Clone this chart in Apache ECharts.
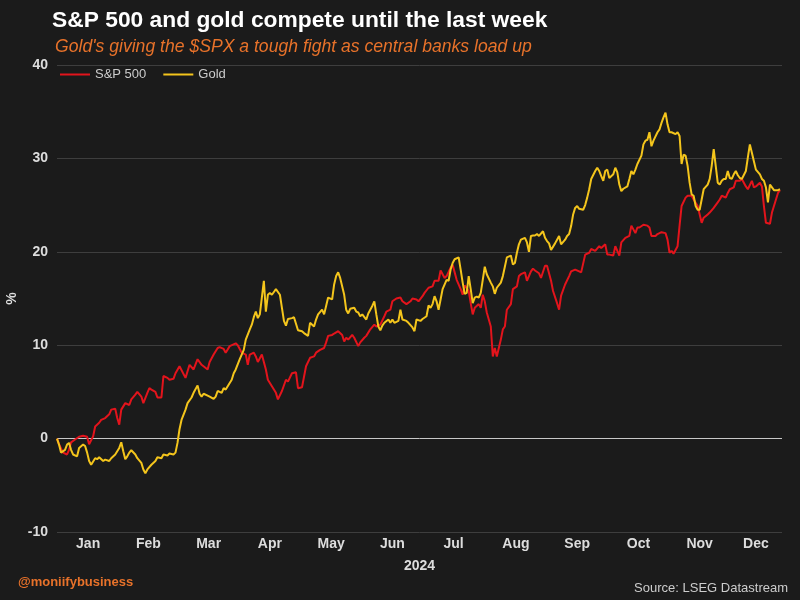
<!DOCTYPE html>
<html><head><meta charset="utf-8">
<script src="https://cdn.jsdelivr.net/npm/echarts@6/dist/echarts.min.js"></script>
<style>html,body{margin:0;padding:0;background:#1b1b1b}#chart{width:800px;height:600px}</style>
</head><body><div id="chart"></div>
<script>
const monthLabels = ['Jan','Feb','Mar','Apr','May','Jun','Jul','Aug','Sep','Oct','Nov','Dec'];
const yearLabel = '2024';
const yTicks = [-10, 0, 10, 20, 30, 40];

const spxDates = ['01-01','01-02','01-04','01-06','01-07','01-08','01-10','01-12','01-14','01-16','01-17','01-19','01-20','01-22','01-23','01-25','01-27','01-28','01-30','01-31',
'02-01','02-02','02-04','02-06','02-07','02-09','02-10','02-12','02-13','02-15','02-16','02-17','02-19','02-20','02-22','02-23','02-25','02-26','02-28','02-29',
'03-02','03-05','03-07','03-09','03-11','03-13','03-16','03-17','03-19','03-21','03-22','03-24','03-25','03-27','03-30','03-31',
'04-02','04-04','04-05','04-06','04-08','04-09','04-10','04-12','04-14','04-15','04-17','04-19','04-20','04-22','04-24','04-25','04-27','04-29','04-30',
'05-02','05-04','05-06','05-08','05-09','05-11','05-13','05-14','05-15','05-17','05-18','05-20','05-22','05-23','05-24','05-25','05-27','05-28','05-30','05-31',
'06-02','06-03','06-05','06-07','06-08','06-10','06-12','06-13','06-15','06-16','06-18','06-20','06-21','06-23','06-25','06-26','06-28','06-29',
'07-01','07-02','07-04','07-06','07-07','07-09','07-10','07-12','07-13','07-15','07-16','07-18','07-20','07-21','07-22','07-24','07-25','07-26','07-27','07-29','07-30','07-31',
'08-01','08-02','08-04','08-05','08-06','08-07','08-09','08-10','08-11','08-12','08-14','08-15','08-17','08-18','08-19','08-21','08-22','08-24','08-25','08-26','08-28','08-29','08-31',
'09-01','09-03','09-04','09-06','09-07','09-08','09-10','09-12','09-13','09-15','09-17','09-18','09-20','09-22','09-23','09-25','09-27','09-28','09-30',
'10-01','10-02','10-04','10-05','10-07','10-08','10-10','10-12','10-13','10-15','10-16','10-17','10-19','10-21','10-22','10-23','10-25','10-26','10-28','10-30','10-31',
'11-01','11-02','11-03','11-05','11-06','11-07','11-09','11-10','11-12','11-13','11-15','11-17','11-18','11-20','11-21','11-23','11-25','11-26','11-27','11-29','11-30',
'12-01','12-03','12-04','12-06','12-07','12-09','12-10','12-12','12-13','12-14','12-16','12-17','12-18','12-19','12-21','12-22','12-24','12-25','12-26'];
const spxValues = [0,-0.6,-1.5,-1.7,-1.2,-0.4,-0.1,0.2,0.3,0.2,-0.6,0.25,1.3,1.7,2.0,2.2,2.6,3.1,3.2,2.2,
1.5,3.1,3.8,3.6,4.2,4.7,5.0,4.5,3.8,4.9,5.4,5.25,5.0,4.4,4.4,6.7,6.5,6.3,6.4,7.0,
7.75,6.5,7.9,7.4,8.5,7.9,7.4,8.2,9.0,9.7,9.8,9.6,9.2,9.9,10.2,10.0,
9.2,9.0,7.9,9.0,9.2,8.8,8.2,9.0,7.4,6.3,5.6,4.9,4.2,5.1,6.3,6.1,7.0,7.1,5.4,
5.5,7.75,8.65,8.8,9.2,9.5,9.7,10.3,11.0,11.1,11.25,11.5,11.1,10.4,10.8,10.6,11.1,10.8,9.9,10.3,
10.8,11.0,11.7,12.2,12.0,12.2,13.1,13.6,13.8,14.7,15.0,15.1,14.7,14.4,14.7,15.0,14.9,14.7,
15.25,15.6,16.15,16.3,16.9,16.9,18.0,17.2,17.4,18.3,18.6,17.0,16.0,15.4,16.4,15.8,14.5,13.3,14.0,14.4,14.0,15.4,
14.7,13.5,12.0,8.8,9.7,8.8,10.6,11.7,12.0,13.8,14.4,16.0,16.3,17.4,17.6,17.8,16.9,17.9,18.2,18.0,17.7,17.2,18.5,
18.5,16.9,15.8,14.5,13.8,15.3,16.5,17.4,17.9,18.1,17.9,17.8,19.7,19.9,20.3,20.1,20.6,20.4,20.8,
19.7,19.7,19.6,20.6,19.6,21.0,21.5,21.7,22.8,22.0,22.6,22.6,22.9,22.8,22.6,21.7,21.7,21.9,22.1,22.0,21.3,
19.9,20.1,19.8,20.6,22.8,24.9,25.8,26.0,26.0,25.6,24.9,23.1,23.65,24.0,24.2,24.7,25.3,25.6,26.0,25.8,26.3,
26.7,26.9,27.6,27.6,27.8,27.0,26.7,27.6,26.9,27.0,27.4,27.0,24.9,23.1,23.0,24.2,25.6,26.3,26.6];

const goldDates = ['01-01','01-02','01-03','01-05','01-06','01-07','01-08','01-09','01-11','01-12','01-14','01-15','01-16','01-17','01-18','01-20','01-21','01-22','01-24','01-25','01-27','01-28','01-30',
'02-01','02-02','02-03','02-04','02-05','02-06','02-07','02-09','02-10','02-12','02-13','02-14','02-15','02-17','02-19','02-20','02-22','02-23','02-25','02-26','02-28','02-29',
'03-01','03-02','03-03','03-05','03-06','03-08','03-09','03-11','03-12','03-13','03-14','03-16','03-17','03-19','03-20','03-21','03-23','03-24','03-25','03-26','03-28','03-29','03-30',
'04-01','04-03','04-04','04-06','04-07','04-08','04-09','04-10','04-11','04-12','04-13','04-14','04-15','04-16','04-17','04-18','04-19','04-21','04-22','04-23','04-24','04-25','04-27','04-28','04-30',
'05-02','05-03','05-05','05-06','05-08','05-09','05-10','05-12','05-13','05-14','05-15','05-17','05-18','05-19','05-20','05-21','05-23','05-24','05-25','05-26','05-28','05-29','05-30','05-31',
'06-01','06-03','06-04','06-05','06-06','06-07','06-08','06-09','06-10','06-11','06-12','06-14','06-15','06-16','06-17','06-19','06-20','06-21','06-23','06-24','06-26','06-27','06-28','06-30',
'07-01','07-03','07-04','07-05','07-06','07-07','07-08','07-09','07-10','07-11','07-13','07-14','07-15','07-16','07-17','07-19','07-20','07-21','07-22','07-23','07-24','07-25','07-26','07-27','07-28','07-29','07-30','07-31',
'08-01','08-02','08-04','08-05','08-06','08-07','08-09','08-10','08-11','08-12','08-14','08-15','08-16','08-17','08-18','08-19','08-21','08-22','08-23','08-24','08-25','08-26','08-27','08-28','08-30','08-31',
'09-01','09-02','09-03','09-05','09-06','09-07','09-08','09-10','09-11','09-12','09-13','09-14','09-15','09-16','09-17','09-19','09-20','09-21','09-22','09-23','09-25','09-26','09-27','09-28','09-29','09-30',
'10-01','10-02','10-04','10-05','10-06','10-07','10-08','10-09','10-11','10-12','10-13','10-14','10-15','10-16','10-18','10-19','10-20','10-21','10-22','10-23','10-24','10-26','10-27','10-28','10-29','10-30','10-31',
'11-01','11-02','11-04','11-05','11-06','11-07','11-08','11-09','11-10','11-11','11-12','11-13','11-14','11-15','11-16','11-17','11-18','11-20','11-21','11-22','11-23','11-24','11-25','11-26','11-27','11-28','11-29','11-30',
'12-01','12-02','12-03','12-04','12-05','12-06','12-07','12-09','12-10','12-11','12-12','12-13','12-14','12-16','12-17','12-18','12-19','12-20','12-21','12-22','12-23','12-25','12-26'];
const goldValues = [0,-0.64,-1.5,-1.2,-0.64,-0.46,-1.2,-1.7,-1.9,-1.0,-0.64,-0.8,-1.5,-2.4,-2.8,-2.1,-2.2,-2.0,-2.4,-2.25,-2.4,-2.1,-1.7,
-1.0,-0.4,-1.35,-2.2,-1.9,-1.5,-1.25,-1.7,-2.1,-2.6,-3.3,-3.7,-3.3,-2.8,-2.4,-2.0,-2.1,-1.7,-1.8,-1.6,-1.7,-1.5,
-0.46,1.0,2.0,3.1,3.8,4.4,4.9,5.7,4.8,4.5,4.8,4.6,4.5,4.25,4.5,5.1,4.9,5.4,5.25,5.6,6.3,7.0,7.4,
8.5,9.5,10.6,11.7,12.2,13.0,13.6,12.9,13.3,15.1,16.9,13.6,15.4,15.6,15.4,15.7,16.0,15.4,14.0,12.6,12.1,12.8,12.9,13.0,11.6,
11.5,11.3,11.0,12.4,12.0,12.75,13.3,13.8,13.3,14.2,15.1,14.9,16.5,17.4,17.8,17.2,15.4,13.8,13.4,13.9,14.0,13.6,13.5,13.1,
13.3,12.75,13.4,13.8,14.2,14.7,13.3,12.0,11.6,12.1,12.4,12.75,12.4,12.75,12.4,12.6,13.8,12.75,12.6,12.4,11.9,11.5,12.75,12.6,
12.8,13.1,14.25,14.0,14.4,15.25,14.7,13.8,14.9,16.0,17.0,16.9,18.1,18.8,19.2,19.4,18.1,16.7,15.5,15.6,17.4,16.0,14.5,15.1,15.2,15.1,15.6,17.0,
18.4,17.6,16.7,16.3,15.5,16.15,16.7,17.4,18.4,19.4,19.6,18.65,18.8,19.9,20.8,21.3,21.5,21.0,20.0,21.7,21.75,21.75,21.9,21.7,22.2,21.5,
21.15,20.9,20.2,20.9,21.3,21.7,20.8,21.3,21.7,21.9,22.75,24.0,24.7,24.9,24.6,24.5,25.0,25.8,26.7,27.8,28.65,29.0,28.65,28.1,27.6,28.65,
28.8,27.9,28.3,29.0,28.5,27.2,26.5,26.75,27.0,27.8,28.65,28.3,28.8,29.4,30.3,31.5,31.9,32.0,32.8,31.3,31.9,32.8,33.1,33.8,34.4,34.9,33.65,
32.8,32.8,32.6,32.8,32.4,29.4,30.4,30.3,29.2,27.4,26.15,26.0,24.9,24.5,24.5,25.6,26.7,27.2,27.8,29.2,31.0,29.2,27.4,27.2,27.6,27.8,27.8,28.65,
27.9,27.8,28.3,28.65,28.2,27.9,27.8,28.65,30.1,31.5,30.6,29.7,28.8,28.3,27.8,27.6,26.9,25.3,27.2,26.9,26.6,26.6,26.7];

function toTime(md) { const p = md.split('-'); return new Date(2024, +p[0] - 1, +p[1]).getTime(); }
const axisMin = new Date(2024, 0, 1).getTime();
const axisMax = new Date(2024, 11, 27).getTime();
const labelPos = monthLabels.map((m, i) => {
  const s = new Date(2024, i, 1).getTime();
  const e = i < 11 ? new Date(2024, i + 1, 1).getTime() : axisMax;
  return (s + e) / 2;
});

const FONT = "'Liberation Sans', Arial, sans-serif";
const chart = echarts.init(document.getElementById('chart'), null, { renderer: 'canvas' });
chart.setOption({
  backgroundColor: '#1b1b1b',
  animation: false,
  title: [
    { text: 'S&P 500 and gold compete until the last week', left: 47, top: 4,
      textStyle: { color: '#ffffff', fontSize: 22.8, fontWeight: 'bold', fontFamily: FONT } },
    { text: "Gold's giving the $SPX a tough fight as central banks load up", left: 50, top: 33,
      textStyle: { color: '#e8722a', fontSize: 17.6, fontStyle: 'italic', fontWeight: 'normal', fontFamily: FONT } }
  ],
  legend: {
    left: 55, top: 63, icon: 'rect', itemWidth: 30, itemHeight: 2, itemGap: 17,
    textStyle: { color: '#cccccc', fontSize: 13, fontFamily: FONT },
    data: ['S&P 500', 'Gold']
  },
  grid: { left: 57, right: 18, top: 65, bottom: 68, outerBoundsMode: 'none', containLabel: false },
  xAxis: {
    type: 'value', min: axisMin, max: axisMax,
    name: yearLabel, nameLocation: 'middle', nameGap: 27,
    nameTextStyle: { color: '#dddddd', fontSize: 14, fontWeight: 'bold', fontFamily: FONT },
    axisLine: { show: false }, axisTick: { show: false }, splitLine: { show: false },
    axisLabel: {
      customValues: labelPos, margin: 5, color: '#dddddd', fontSize: 14, fontWeight: 'bold', fontFamily: FONT,
      formatter: (v) => monthLabels[new Date(v).getMonth()]
    }
  },
  yAxis: {
    type: 'value', min: yTicks[0], max: yTicks[yTicks.length - 1], interval: 10,
    name: '%', nameLocation: 'middle', nameGap: 45, nameRotate: 90, nameMoveOverlap: false,
    nameTextStyle: { color: '#dddddd', fontSize: 14, fontWeight: 'bold', fontFamily: FONT, verticalAlign: 'middle' },
    axisLine: { show: false }, axisTick: { show: false },
    axisLabel: { color: '#dddddd', fontSize: 14, fontWeight: 'bold', margin: 9, fontFamily: FONT },
    splitLine: { show: true, lineStyle: { width: 1, color: yTicks.map(t => t === 0 ? '#c8c8c8' : '#3e3e3e') } }
  },
  series: [
    { name: 'S&P 500', type: 'line', showSymbol: false, symbol: 'none',
      lineStyle: { color: '#e3141c', width: 2 }, itemStyle: { color: '#e3141c' },
      data: spxDates.map((d, i) => [toTime(d), spxValues[i]]) },
    { name: 'Gold', type: 'line', showSymbol: false, symbol: 'none',
      lineStyle: { color: '#f4c51c', width: 2 }, itemStyle: { color: '#f4c51c' },
      data: goldDates.map((d, i) => [toTime(d), goldValues[i]]) }
  ],
  graphic: [
    { type: 'text', left: 18, top: 576, style: { text: '@moniifybusiness', fill: '#e8722a', font: "bold 13px 'Liberation Sans', Arial, sans-serif" } },
    { type: 'text', right: 12, top: 582, style: { text: 'Source: LSEG Datastream', fill: '#cccccc', font: "13px 'Liberation Sans', Arial, sans-serif" } }
  ]
});
</script></body></html>
